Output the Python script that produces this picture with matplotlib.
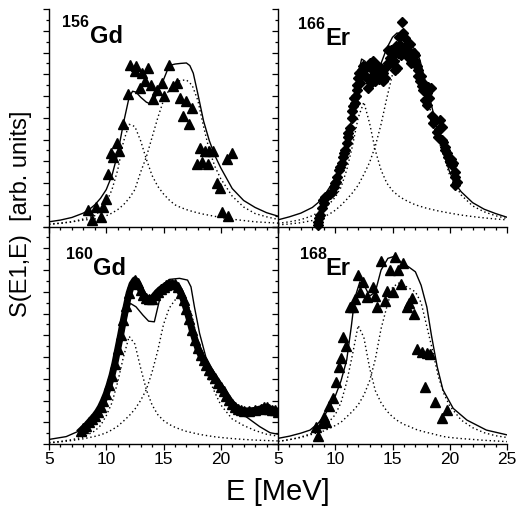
import matplotlib.pyplot as plt
from matplotlib.ticker import MultipleLocator

plt.rcParams['font.family'] = ['Liberation Sans', 'DejaVu Sans']

# common energy grid for the two Lorentzian components (MeV)
grid_e = [5, 6, 7, 8, 9, 9.5, 10, 10.5, 11, 11.5, 12, 12.5, 13, 13.5, 14, 14.5,
          15, 15.5, 16, 16.5, 17, 17.5, 18, 18.5, 19, 19.5, 20, 21, 22, 23, 24, 25]

# ---- 156Gd ----
gd156_fit_e = [5, 6, 7, 8, 8.5, 9, 9.5, 10, 10.5, 11, 11.5, 12, 12.3, 12.6, 13, 13.5, 13.8,
               14.2, 14.6, 15, 15.5, 16, 16.5, 17, 17.3, 17.6, 18, 18.5, 19, 19.5, 20,
               21, 22, 23, 24, 25]
gd156_fit = [0.22, 0.3, 0.42, 0.62, 0.78, 1.0, 1.3, 1.7, 2.35, 3.35, 4.75, 5.95, 6.22, 6.18,
             5.95, 5.72, 5.65, 5.85, 6.3, 6.75, 7.4, 7.47, 7.5, 7.52, 7.4, 7.05, 6.1, 4.85,
             3.95, 3.25, 2.7, 1.75, 1.2, 0.88, 0.64, 0.48]
gd156_low = [0.12, 0.16, 0.22, 0.35, 0.5, 0.75, 1.1, 1.7, 2.6, 3.9, 4.7, 4.6, 3.95, 3.1, 2.35,
             1.85, 1.5, 1.22, 1.0, 0.88, 0.78, 0.7, 0.63, 0.57, 0.52, 0.47, 0.42, 0.34, 0.28,
             0.22, 0.19, 0.16]
gd156_high = [0.1, 0.15, 0.22, 0.3, 0.35, 0.42, 0.5, 0.62, 0.78, 1.0, 1.3, 1.7, 2.5, 3.2, 4.1,
              5.0, 5.8, 6.3, 6.6, 6.72, 6.74, 6.5, 5.8, 4.6, 3.5, 2.75, 2.2, 1.4, 0.9, 0.6,
              0.45, 0.33]
gd156_exp_e = [12.11, 12.57, 12.49, 13.16, 13.65, 13.42, 13.95, 12.92, 11.9, 14.44, 14.85,
               15.5, 15.79, 16.14, 15.03, 14.04, 16.43, 16.96, 17.51, 16.67, 17.22, 18.19,
               18.63, 19.0, 19.36, 17.89, 18.33, 18.92, 21.02, 20.53, 19.65, 19.94, 20.08,
               20.6, 11.46, 10.94, 11.11, 10.44, 10.58, 10.15, 10.0, 9.1, 9.74, 8.43, 8.73,
               9.52]
gd156_exp = [7.42, 7.39, 7.13, 7.08, 7.28, 6.7, 6.51, 6.36, 6.1, 6.28, 6.62, 7.42, 6.47, 6.62,
             5.98, 5.85, 5.9, 5.78, 5.43, 5.09, 4.72, 3.63, 3.49, 3.49, 3.49, 2.87, 2.99, 2.87,
             3.4, 3.1, 1.99, 1.76, 0.65, 0.5, 4.72, 3.83, 3.48, 3.4, 3.22, 2.42, 1.25, 0.88,
             0.88, 0.76, 0.3, 0.42]

# ---- 166Er ----
er166_fit_e = [5, 6, 7, 8, 8.5, 9, 9.5, 10, 10.5, 11, 11.5, 12, 12.3, 12.6, 13, 13.5, 14,
               14.5, 15, 15.4, 15.8, 16.2, 16.6, 17, 17.4, 17.8, 18.3, 18.9, 19.5, 20, 20.5,
               21, 22, 23, 24, 25]
er166_fit = [0.31, 0.45, 0.62, 0.88, 1.1, 1.4, 1.8, 2.2, 2.9, 3.7, 5.1, 7.0, 7.7, 7.6, 7.1,
             7.05, 7.5, 8.2, 8.7, 8.9, 8.8, 8.45, 8.3, 8.15, 7.65, 6.8, 5.8, 4.5, 3.3, 2.5,
             1.95, 1.6, 1.1, 0.8, 0.6, 0.43]
er166_low = [0.15, 0.22, 0.32, 0.5, 0.8, 1.05, 1.35, 1.8, 2.6, 3.7, 5.0, 5.72, 4.75, 3.5, 2.6,
             2.0, 1.65, 1.42, 1.25, 1.12, 1.0, 0.92, 0.84, 0.78, 0.72, 0.67, 0.62, 0.53,
             0.46, 0.4, 0.35, 0.31]
er166_high = [0.08, 0.12, 0.18, 0.28, 0.45, 0.58, 0.75, 0.98, 1.25, 1.55, 1.9, 2.4, 2.95, 3.7,
              4.7, 5.9, 7.0, 7.6, 7.75, 7.7, 7.35, 6.7, 5.9, 5.0, 4.0, 3.2, 2.35, 1.45, 0.95,
              0.68, 0.5, 0.37]
er166_exp_e = [8.45, 8.52, 8.67, 8.81, 8.96, 9.1, 9.4, 9.69, 9.89, 10.07, 10.18, 10.36, 10.56,
               10.7, 10.85, 11.0, 11.14, 11.29, 11.43, 11.58, 11.72, 11.81, 11.87, 11.96,
               12.1, 12.31, 12.45, 12.6, 12.74, 12.89, 13.03, 13.18, 13.33, 13.47, 13.62,
               13.76, 13.97, 14.14, 14.35, 14.49, 14.64, 14.78, 14.93, 15.07, 15.22, 15.36,
               15.51, 15.65, 15.8, 15.95, 16.09, 16.24, 16.38, 16.47, 16.59, 16.76, 16.88,
               16.97, 17.11, 17.26, 17.4, 17.55, 17.69, 17.84, 17.98, 18.13, 18.33, 18.42,
               18.57, 18.86, 19.15, 19.29, 19.0, 19.44, 19.58, 19.73, 19.88, 20.02, 20.17,
               20.31, 20.46, 20.6, 20.46,
               12.2, 12.5, 12.7, 13.1, 13.3, 13.5, 13.8, 14.0, 14.2, 14.6, 14.9, 15.1, 15.3,
               15.6, 15.7, 16.0, 16.3, 16.5, 16.8, 17.0, 17.2, 17.5, 17.7, 18.0, 18.2, 18.7,
               19.1, 19.3, 19.6, 20.1, 20.5, 11.5, 11.65, 11.9, 10.4, 10.8, 11.1, 9.5, 9.0,
               8.6, 10.0]
er166_exp = [0.08, 0.23, 0.54, 0.84, 1.23, 1.38, 1.46, 1.61, 1.84, 2.07, 2.3, 2.6, 2.91, 3.22,
             3.52, 3.83, 4.14, 4.52, 4.98, 5.52, 5.67, 5.98, 6.51, 6.82, 7.05, 7.2, 7.36, 6.9,
             6.82, 6.36, 7.51, 7.28, 6.97, 6.67, 7.2, 7.36, 6.9, 7.05, 6.82, 7.36, 8.12, 7.74,
             7.51, 7.89, 7.2, 7.28, 7.97, 8.35, 9.38, 8.89, 8.66, 8.35, 8.12, 7.74, 7.51,
             7.82, 7.97, 7.59, 7.36, 6.9, 6.67, 6.44, 6.28, 5.82, 6.13, 6.41, 6.36, 5.06,
             4.75, 4.37, 4.9, 4.6, 4.14, 3.91, 3.68, 3.37, 3.22, 2.99, 2.84, 2.91, 2.53, 2.07,
             1.92,
             6.6, 6.95, 7.3, 6.6, 7.6, 7.4, 6.8, 7.3, 6.7, 7.5, 8.1, 7.6, 8.3, 8.7, 7.9, 8.2,
             7.9, 8.4, 7.6, 7.9, 7.2, 6.9, 6.6, 5.6, 5.9, 4.9, 4.5, 4.0, 3.5, 3.1, 2.3, 5.3,
             5.9, 6.3, 2.75, 3.4, 4.3, 1.5, 1.1, 0.4, 2.0]

# ---- 160Gd ----
gd160_fit_e = [5, 6.5, 7.8, 8.8, 9.7, 10.6, 11.3, 11.75, 12.1, 12.6, 13.2, 13.7, 14.2, 14.65,
               15.1, 15.5, 16.4, 17.1, 17.4, 17.7, 18.15, 18.7, 19.6, 20.75, 22.2, 23.4,
               24.3, 25]
gd160_fit = [0.21, 0.34, 0.64, 1.1, 1.87, 3.25, 4.63, 5.85, 6.47, 6.31, 5.93, 5.65, 5.62,
             6.62, 7.39, 7.57, 7.62, 7.54, 7.23, 6.31, 5.09, 4.0, 3.1, 2.18, 1.26, 0.8, 0.52,
             0.45]
gd160_low = [0.06, 0.12, 0.2, 0.32, 0.6, 0.85, 1.3, 1.9, 2.85, 4.0, 4.95, 4.6, 3.5, 2.5, 1.8,
             1.35, 1.08, 0.9, 0.77, 0.67, 0.58, 0.52, 0.46, 0.41, 0.37, 0.33, 0.3, 0.25, 0.21,
             0.18, 0.16, 0.14]
gd160_high = [0.05, 0.1, 0.16, 0.24, 0.35, 0.42, 0.52, 0.65, 0.82, 1.05, 1.3, 1.6, 2.0, 2.5,
              3.3, 4.3, 5.5, 6.25, 6.62, 6.77, 6.6, 5.9, 4.6, 3.75, 2.95, 2.35, 1.8, 1.15,
              0.85, 0.62, 0.45, 0.36]
gd160_exp_e = [7.8, 8.0, 8.25, 8.5, 8.75, 9.0, 9.25, 9.5, 9.75, 10.0, 10.25, 10.5, 10.75, 11.0,
               11.25, 11.5, 11.75, 12.0, 12.25, 12.5, 12.75, 13.0, 13.25, 13.5, 13.75, 14.0,
               14.25, 14.5, 14.75, 15.0, 15.25, 15.5, 15.75, 16.0, 16.25, 16.5, 16.75, 17.0,
               17.25, 17.5, 17.75, 18.0, 18.25, 18.5, 18.75, 19.0, 19.25, 19.5, 19.75, 20.0,
               20.25, 20.5, 20.75, 21.0, 21.25, 21.5, 21.75, 22.0, 22.5, 23.0, 23.5, 23.75,
               24.0, 24.25, 24.5, 24.75, 25.0]
gd160_exp = [0.62, 0.72, 0.85, 1.0, 1.15, 1.3, 1.48, 1.7, 1.98, 2.3, 2.7, 3.15, 3.7, 4.35, 5.0,
             5.7, 6.35, 6.95, 7.35, 7.55, 7.4, 7.1, 6.85, 6.7, 6.65, 6.68, 6.85, 7.0, 7.12,
             7.22, 7.3, 7.36, 7.38, 7.35, 7.2, 6.95, 6.62, 6.2, 5.75, 5.25, 4.8, 4.4, 4.1,
             3.85, 3.62, 3.42, 3.22, 3.02, 2.82, 2.62, 2.42, 2.22, 2.02, 1.85, 1.72, 1.62,
             1.56, 1.53, 1.52, 1.55, 1.62, 1.68, 1.68, 1.62, 1.58, 1.55, 1.45]

# ---- 168Er ----
er168_fit_e = [5, 6, 7, 7.8, 8.5, 9, 9.5, 10, 10.5, 11, 11.4, 11.7, 12.15, 12.6, 13.0, 13.5,
               14.0, 14.6, 15.2, 15.8, 16.4, 17.0, 17.5, 18.0, 18.4, 18.9, 19.4, 20.3, 21.5,
               23.2, 25]
er168_fit = [0.26, 0.36, 0.5, 0.64, 0.95, 1.26, 1.7, 2.2, 2.9, 3.86, 5.4, 6.7, 7.46, 7.23,
             6.8, 7.0, 8.0, 8.54, 8.64, 8.34, 8.15, 7.92, 7.3, 6.3, 5.0, 3.56, 2.5, 1.64, 1.1,
             0.64, 0.42]
er168_low = [0.12, 0.2, 0.32, 0.5, 0.8, 1.05, 1.35, 1.9, 2.85, 4.1, 5.45, 4.9, 3.5, 2.45, 1.9,
             1.52, 1.25, 1.05, 0.9, 0.8, 0.68, 0.6, 0.53, 0.47, 0.4, 0.34, 0.3, 0.25, 0.21,
             0.17, 0.14, 0.11]
er168_high = [0.12, 0.2, 0.3, 0.45, 0.6, 0.72, 0.85, 1.0, 1.25, 1.5, 1.8, 2.25, 2.9, 3.9, 5.3,
              6.3, 7.2, 7.4, 7.3, 7.15, 7.0, 6.5, 5.4, 4.3, 3.1, 2.3, 1.75, 1.1, 0.75, 0.52,
              0.38, 0.3]
er168_exp_e = [14.0, 15.22, 15.95, 14.78, 15.51, 15.71, 11.96, 12.45, 12.16, 13.33, 12.8,
               13.47, 14.49, 15.07, 14.35, 11.72, 11.52, 11.29, 13.68, 16.67, 16.47, 16.24,
               16.88, 10.7, 10.94, 10.5, 10.33, 10.04, 9.78, 9.45, 9.02, 9.19, 8.81, 8.32,
               8.52, 17.11, 17.55, 17.98, 18.28, 17.84, 18.71, 19.73, 19.29]
er168_exp = [8.41, 8.58, 8.31, 8.0, 8.0, 7.34, 7.77, 7.46, 6.97, 7.23, 6.77, 6.8, 7.03, 7.0,
             6.59, 6.67, 6.28, 6.28, 6.28, 6.7, 6.5, 6.28, 6.0, 4.93, 4.5, 3.97, 3.56, 2.87,
             2.1, 1.75, 1.26, 1.03, 0.95, 0.8, 0.37, 4.35, 4.25, 4.17, 4.14, 2.64, 1.95, 1.56,
             1.18]

W, H = 518, 511


def box(x0, y0, x1, y1):
    # pixel rectangle -> figure fraction [left, bottom, width, height]
    return [x0 / W, 1 - y1 / H, (x1 - x0) / W, (y1 - y0) / H]


def setup_axes(ax, show_labels, left_panel):
    ax.set_facecolor('none')
    ax.set_xlim(5, 25)
    ax.set_ylim(0, 10)
    ax.spines['top'].set_visible(False)
    ax.spines['right'].set_visible(False)
    for s in ('left', 'bottom'):
        ax.spines[s].set_linewidth(1.0)
    ax.xaxis.set_major_locator(MultipleLocator(5))
    ax.xaxis.set_minor_locator(MultipleLocator(1))
    ax.yaxis.set_major_locator(MultipleLocator(1))
    ax.yaxis.set_minor_locator(MultipleLocator(0.5))
    ax.tick_params(which='major', direction='out', length=4, width=0.9, labelsize=12.5, pad=2)
    ax.tick_params(which='minor', direction='out', length=2.5, width=0.9)
    ax.set_yticklabels([])
    if not show_labels:
        ax.set_xticklabels([])
    elif left_panel:
        ax.set_xticks([5, 10, 15, 20, 25])
        ax.set_xticklabels(['5', '10', '15', '20', ''])


def draw_panel(ax, fit_e, fit, low, high):
    ax.plot(fit_e, fit, color='black', lw=1.0)
    ax.plot(grid_e, low, color='black', lw=1.0, ls=(0, (1, 2)))
    ax.plot(grid_e, high, color='black', lw=1.0, ls=(0, (1, 2)))


fig = plt.figure(figsize=(W / 100, H / 100), dpi=100)

ax_tl = fig.add_axes(box(49, 9, 278, 226.6))
ax_tr = fig.add_axes(box(278, 9, 507, 226.6))
ax_bl = fig.add_axes(box(49, 226.6, 278, 444))
ax_br = fig.add_axes(box(278, 226.6, 507, 444))

setup_axes(ax_tl, False, True)
setup_axes(ax_tr, False, False)
setup_axes(ax_bl, True, True)
setup_axes(ax_br, True, False)

draw_panel(ax_tl, gd156_fit_e, gd156_fit, gd156_low, gd156_high)
ax_tl.plot(gd156_exp_e, gd156_exp, ls='none', marker='^', ms=6.5, color='black')

draw_panel(ax_tr, er166_fit_e, er166_fit, er166_low, er166_high)
ax_tr.plot(er166_exp_e, er166_exp, ls='none', marker='D', ms=5.5, color='black', clip_on=False)

draw_panel(ax_bl, gd160_fit_e, gd160_fit, gd160_low, gd160_high)
ax_bl.plot(gd160_exp_e, gd160_exp, '-^', lw=5, ms=6.5, color='black')

draw_panel(ax_br, er168_fit_e, er168_fit, er168_low, er168_high)
ax_br.plot(er168_exp_e, er168_exp, ls='none', marker='^', ms=6.5, color='black', clip_on=False)


def nucleus(x_mass, x_sym, baseline, mass, sym):
    fig.text(x_mass / W, 1 - (baseline - 16) / H, mass, fontsize=11.5, fontweight='bold',
             va='baseline', ha='left')
    fig.text(x_sym / W, 1 - baseline / H, sym, fontsize=17, fontweight='bold',
             va='baseline', ha='left')


nucleus(62, 90, 43, '156', 'Gd')
nucleus(298, 325, 45, '166', 'Er')
nucleus(66, 93, 275, '160', 'Gd')
nucleus(300, 325, 275, '168', 'Er')

fig.text(278 / W, 1 - 492 / H, 'E [MeV]', fontsize=21, ha='center', va='center')
fig.text(21 / W, 1 - 214 / H, 'S(E1,E)  [arb. units]', fontsize=17, rotation=90,
         ha='center', va='center')

fig.savefig('out.png', dpi=100)
